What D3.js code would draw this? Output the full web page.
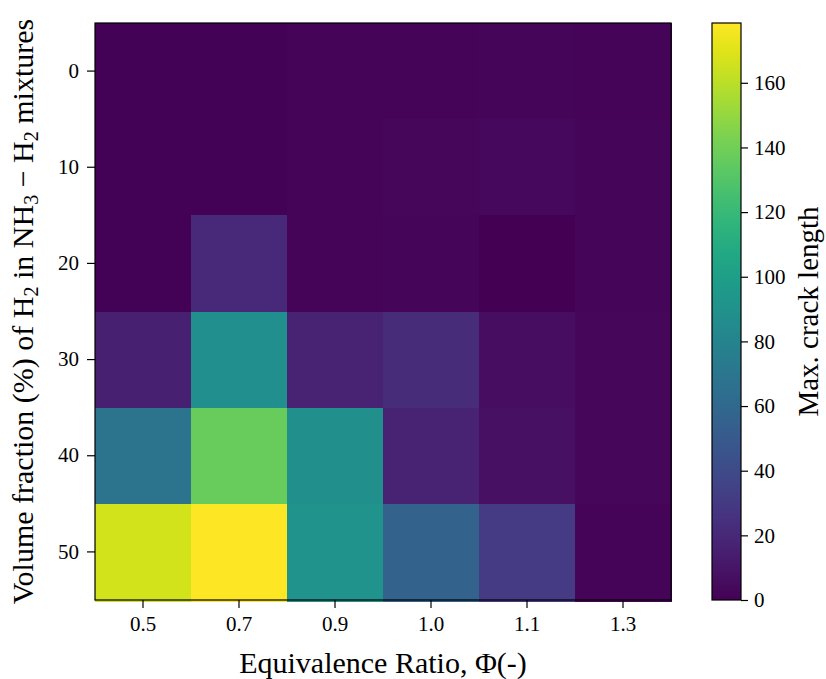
<!DOCTYPE html>
<html>
<head>
<meta charset="utf-8">
<script src="https://cdn.jsdelivr.net/npm/d3@7"></script>
<style>
  body { margin: 0; background: #fff; }
  text { font-family: "Liberation Serif", "DejaVu Serif", serif; fill: #000; }
</style>
</head>
<body>
<div id="chart"></div>
<script>
// heatmap of max crack length

var ratios = ["0.5", "0.7", "0.9", "1.0", "1.1", "1.3"];
var fractions = [0, 10, 20, 30, 40, 50];

// one row per H2 fraction, one value per equivalence ratio
var row0  = [1, 1, 1.5, 2, 2.5, 1.5];
var row10 = [1, 1, 1.5, 3, 3.5, 2.5];
var row20 = [1, 20, 1.5, 2.5, 0, 2.5];
var row30 = [16, 88, 17, 22, 6, 3];
var row40 = [68, 137, 89, 17, 7, 3];
var row50 = [166, 178, 92, 56, 31, 2];
var rows = [row0, row10, row20, row30, row40, row50];

var cbTicks = [0, 20, 40, 60, 80, 100, 120, 140, 160];
var vmax = 178.5;

var cells = [];
rows.forEach(function(r, i) {
    r.forEach(function(v, j) {
        cells.push({ratio: ratios[j], frac: fractions[i], value: v});
    });
});

var margin = {top: 23, left: 95},
    width = 576,
    height = 577;

var svg = d3.select("#chart").append("svg")
    .attr("width", 826)
    .attr("height", 679);

var g = svg.append("g")
    .attr("transform", "translate(" + margin.left + "," + margin.top + ")");

var x = d3.scaleBand().domain(ratios).range([0, width]);
var y = d3.scaleBand().domain(fractions).range([0, height]);
var color = d3.scaleSequential(d3.interpolateViridis).domain([0, vmax]);

g.selectAll("rect.cell")
    .data(cells)
    .enter().append("rect")
    .attr("class", "cell")
    .attr("x", function(d) { return Math.round(x(d.ratio)); })
    .attr("y", function(d) { return Math.round(y(d.frac)); })
    .attr("width", Math.ceil(x.bandwidth()) + 1)
    .attr("height", Math.ceil(y.bandwidth()) + 1)
    .attr("shape-rendering", "crispEdges")
    .attr("fill", function(d) { return color(d.value); });

g.append("rect")
    .attr("width", width)
    .attr("height", height)
    .attr("fill", "none")
    .attr("stroke", "#000")
    .attr("stroke-width", 1.2);

var xAxis = g.append("g")
    .attr("transform", "translate(0," + height + ")")
    .call(d3.axisBottom(x).tickSize(8).tickPadding(8));
var yAxis = g.append("g")
    .call(d3.axisLeft(y).tickSize(8).tickPadding(8));

[xAxis, yAxis].forEach(function(a) {
    a.select(".domain").remove();
    a.selectAll("line").attr("stroke", "#000").attr("stroke-width", 1.2);
    a.selectAll("text").style("font-size", "21px")
        .style("font-family", "'Liberation Serif', serif");
});

// axis titles
svg.append("text")
    .attr("x", margin.left + width / 2)
    .attr("y", 673)
    .attr("text-anchor", "middle")
    .style("font-size", "30px")
    .text("Equivalence Ratio, \u03A6(-)");

var yl = svg.append("text")
    .attr("transform", "translate(33," + (margin.top + height / 2) + ") rotate(-90)")
    .attr("text-anchor", "middle")
    .style("font-size", "30px");
yl.append("tspan").text("Volume fraction (%) of H");
yl.append("tspan").attr("baseline-shift", "-25%").style("font-size", "20px").text("2");
yl.append("tspan").text(" in NH");
yl.append("tspan").attr("baseline-shift", "-25%").style("font-size", "20px").text("3");
yl.append("tspan").text(" \u2212 H");
yl.append("tspan").attr("baseline-shift", "-25%").style("font-size", "20px").text("2");
yl.append("tspan").text(" mixtures");

// colorbar
var cbX = 712, cbW = 29;
var cbY = d3.scaleLinear().domain([0, vmax]).range([margin.top + height, margin.top]);

var defs = svg.append("defs");
var grad = defs.append("linearGradient")
    .attr("id", "cbgrad")
    .attr("x1", 0).attr("y1", 1).attr("x2", 0).attr("y2", 0);
d3.range(0, 1.0001, 0.05).forEach(function(t) {
    grad.append("stop")
        .attr("offset", t)
        .attr("stop-color", d3.interpolateViridis(t));
});

svg.append("rect")
    .attr("x", cbX)
    .attr("y", margin.top)
    .attr("width", cbW)
    .attr("height", height)
    .attr("fill", "url(#cbgrad)")
    .attr("stroke", "#000")
    .attr("stroke-width", 1.2);

var cbAxis = svg.append("g")
    .attr("transform", "translate(" + (cbX + cbW) + ",0)")
    .call(d3.axisRight(cbY).tickValues(cbTicks).tickSize(7).tickPadding(6));
cbAxis.select(".domain").remove();
cbAxis.selectAll("line").attr("stroke", "#000").attr("stroke-width", 1.2);
cbAxis.selectAll("text").style("font-size", "21px")
    .style("font-family", "'Liberation Serif', serif");

svg.append("text")
    .attr("transform", "translate(818," + (margin.top + height / 2) + ") rotate(-90)")
    .attr("text-anchor", "middle")
    .style("font-size", "29px")
    .text("Max. crack length");
</script>
</body>
</html>
